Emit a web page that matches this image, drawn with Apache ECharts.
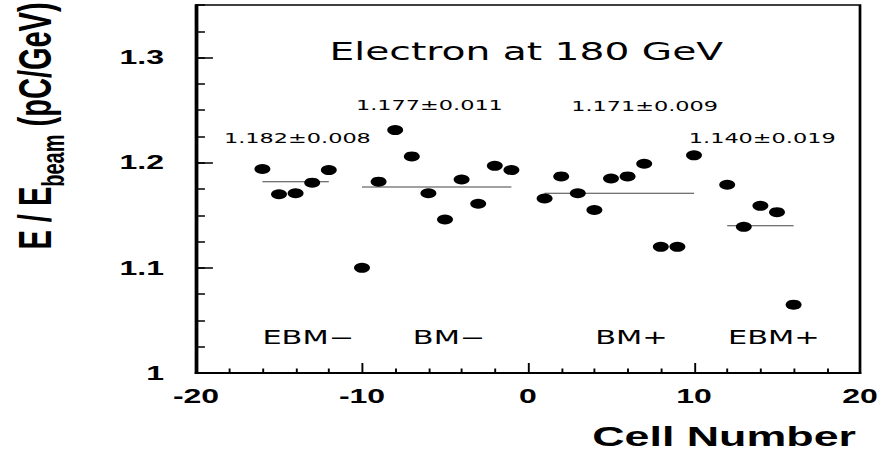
<!DOCTYPE html>
<html>
<head>
<meta charset="utf-8">
<script src="https://cdn.jsdelivr.net/npm/echarts@6/dist/echarts.min.js"></script>
<style>
  html, body { margin: 0; padding: 0; background: #fff; overflow: hidden; }
  #frame { width: 880px; height: 457px; overflow: hidden; }
  /* the plot is laid out on a narrower canvas and widened 1.6x horizontally */
  #chart { width: 550px; height: 457px; transform: scaleX(1.6); transform-origin: 0 0; }
</style>
</head>
<body>
<div id="frame"><div id="chart"></div></div>
<script>
// Response per calorimeter cell, electrons at 180 GeV
const cells = [-16, -15, -14, -13, -12,
               -10, -9, -8, -7, -6, -5, -4, -3, -2, -1,
               1, 2, 3, 4, 5, 6, 7, 8, 9, 10,
               12, 13, 14, 15, 16];
const response = [1.194, 1.170, 1.171, 1.181, 1.193,
                  1.100, 1.182, 1.231, 1.206, 1.171, 1.146, 1.184, 1.161, 1.197, 1.193,
                  1.166, 1.187, 1.171, 1.155, 1.185, 1.187, 1.199, 1.120, 1.120, 1.207,
                  1.179, 1.139, 1.159, 1.153, 1.065];

// Module groups: cell range, mean and its error
const groupNames = ['EBM\u2212', 'BM\u2212', 'BM+', 'EBM+'];
const groupFirst = [-16, -10, 1, 12];
const groupLast = [-12, -1, 10, 16];
const groupMean = [1.182, 1.177, 1.171, 1.140];
const groupError = [0.008, 0.011, 0.009, 0.019];

const titleText = 'Electron at 180 GeV';
const xTitle = 'Cell Number';

// Text placement (layout pixels, before the horizontal widening)
const meanLabelAt = [[140, 138.4], [222.5, 105.4], [357, 106.4], [430.5, 138.4]];
const groupLabelAt = [[164, 337], [258, 337], [372, 337], [455, 337]];

const black = '#000';
const boldFont = 'Liberation Sans';
const plainFont = 'DejaVu Sans';

const chart = echarts.init(document.getElementById('chart'), null, { renderer: 'svg' });

const meanSeries = groupMean.map((m, i) => ({
  type: 'line',
  data: [[groupFirst[i], m], [groupLast[i], m]],
  symbol: 'none',
  lineStyle: { color: '#444', width: 1 },
  silent: true,
  z: 2
}));

const graphics = [
  {
    type: 'text', x: 206, y: 51.4,
    style: { text: titleText, fontFamily: plainFont, fontSize: 24.5, fill: black,
             align: 'left', verticalAlign: 'middle' }
  },
  {
    type: 'text', x: 22, y: 126, rotation: Math.PI / 2,
    style: {
      text: '{m|E / E}{s|beam}{m| (pC/GeV)}',
      align: 'center', verticalAlign: 'middle', fill: black,
      rich: {
        m: { fontFamily: boldFont, fontWeight: 'bold', fontSize: 29, lineHeight: 30,
             verticalAlign: 'top', fill: black },
        s: { fontFamily: boldFont, fontWeight: 'bold', fontSize: 20, lineHeight: 20,
             padding: [16, 0, 0, 0], verticalAlign: 'top', fill: black }
      }
    }
  }
];
groupMean.forEach((m, i) => {
  graphics.push({
    type: 'text', x: meanLabelAt[i][0], y: meanLabelAt[i][1],
    style: { text: m.toFixed(3) + '\u00b1' + groupError[i].toFixed(3),
             fontFamily: plainFont, fontSize: 14, fill: black,
             align: 'left', verticalAlign: 'middle' }
  });
});
groupNames.forEach((n, i) => {
  graphics.push({
    type: 'text', x: groupLabelAt[i][0], y: groupLabelAt[i][1],
    style: { text: n, fontFamily: plainFont, fontSize: 19, fill: black,
             align: 'left', verticalAlign: 'middle' }
  });
});

chart.setOption({
  animation: false,
  backgroundColor: '#fff',
  grid: {
    left: 122.5, right: 12.5, top: 5, bottom: 84,
    show: true, borderColor: black, borderWidth: 1.7,
    containLabel: false, outerBoundsMode: 'none'
  },
  xAxis: {
    type: 'value', min: -20, max: 20, interval: 10, position: 'bottom',
    name: xTitle, nameLocation: 'end', nameGap: -2.5,
    nameTextStyle: { fontFamily: boldFont, fontWeight: 'bold', fontSize: 28, color: black,
                     align: 'right', verticalAlign: 'top', padding: [49, 0, 0, 0] },
    axisLine: { show: true, onZero: false, lineStyle: { color: black, width: 2 } },
    axisTick: { show: true, inside: true, length: 10, lineStyle: { color: black, width: 1.2 } },
    minorTick: { show: true, splitNumber: 5, length: 4.5, lineStyle: { color: black, width: 1.2 } },
    axisLabel: { fontFamily: boldFont, fontWeight: 'bold', fontSize: 20, color: black, margin: 13,
                 hideOverlap: false },
    splitLine: { show: false }, minorSplitLine: { show: false }
  },
  yAxis: [
    {
      type: 'value', min: 1, max: 1.35, interval: 0.1, position: 'left',
      axisLine: { show: true, onZero: false, lineStyle: { color: black, width: 2 } },
      axisTick: { show: true, inside: true, length: 10.6, lineStyle: { color: black, width: 1.5 } },
      axisLabel: { fontFamily: boldFont, fontWeight: 'bold', fontSize: 20, color: black, margin: 20,
                   showMaxLabel: false, hideOverlap: false },
      splitLine: { show: false }
    },
    {
      // fine ticks every 0.025
      type: 'value', min: 1, max: 1.35, interval: 0.025, position: 'left', offset: 0,
      axisLine: { show: false, onZero: false },
      axisTick: { show: true, inside: true, length: 5.6, lineStyle: { color: black, width: 1.5 } },
      axisLabel: { show: false },
      splitLine: { show: false }
    }
  ],
  series: [
    ...meanSeries,
    {
      type: 'scatter',
      data: cells.map((c, i) => [c, response[i]]),
      symbol: 'circle', symbolSize: 10,
      itemStyle: { color: black, opacity: 1 },
      z: 3
    }
  ],
  graphic: graphics
});
</script>
</body>
</html>
